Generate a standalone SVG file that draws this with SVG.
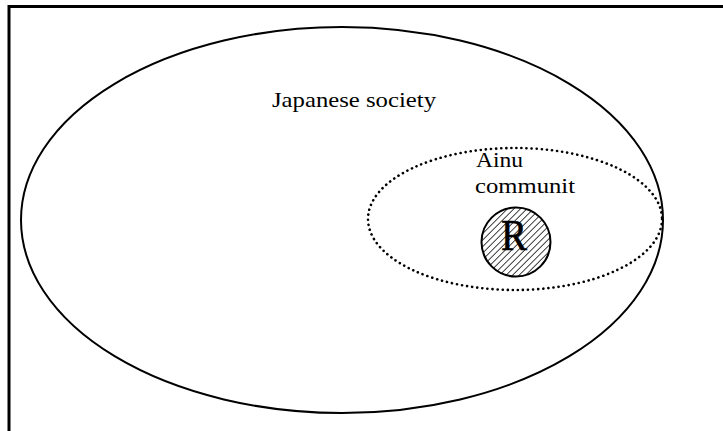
<svg xmlns="http://www.w3.org/2000/svg" width="723" height="431" viewBox="0 0 723 431">
  <style>
    .lbl { font-family: "Liberation Serif", "Times New Roman", serif; fill: #000; }
    .solid { fill: none; stroke: #000; stroke-width: 2; }
    .dotted { fill: none; stroke: #000; stroke-width: 2.6; stroke-dasharray: 0.1 5; stroke-linecap: round; }
  </style>
  <defs>
    <pattern id="hatch" patternUnits="userSpaceOnUse" width="4.6" height="4.6" patternTransform="rotate(45)">
      <rect width="4.6" height="4.6" fill="#fff"/>
      <line x1="0" y1="0" x2="0" y2="4.6" stroke="#000" stroke-width="1.5"/>
    </pattern>
  </defs>
  <rect width="723" height="431" fill="#fff"/>
  <g id="frame">
    <path d="M9,431 V6.5 H723" fill="none" stroke="#000" stroke-width="3"/>
  </g>
  <g id="japanese-society">
    <ellipse class="solid" cx="342" cy="220" rx="321" ry="193"/>
    <text class="lbl" x="272" y="107" font-size="22" textLength="164" lengthAdjust="spacingAndGlyphs">Japanese society</text>
  </g>
  <g id="ainu-community">
    <ellipse class="dotted" cx="515" cy="219" rx="147" ry="71"/>
    <text class="lbl" x="476" y="167" font-size="21" textLength="47" lengthAdjust="spacingAndGlyphs">Ainu</text>
    <text class="lbl" x="475" y="193" font-size="21" textLength="100" lengthAdjust="spacingAndGlyphs">communit</text>
  </g>
  <g id="R">
    <circle cx="516" cy="242" r="34.5" fill="url(#hatch)" stroke="#000" stroke-width="2"/>
    <text class="lbl" x="514" y="250" font-size="44" text-anchor="middle" textLength="26" lengthAdjust="spacingAndGlyphs" stroke="#000" stroke-width="0.6">R</text>
  </g>
  <g id="connectors"></g>
</svg>
